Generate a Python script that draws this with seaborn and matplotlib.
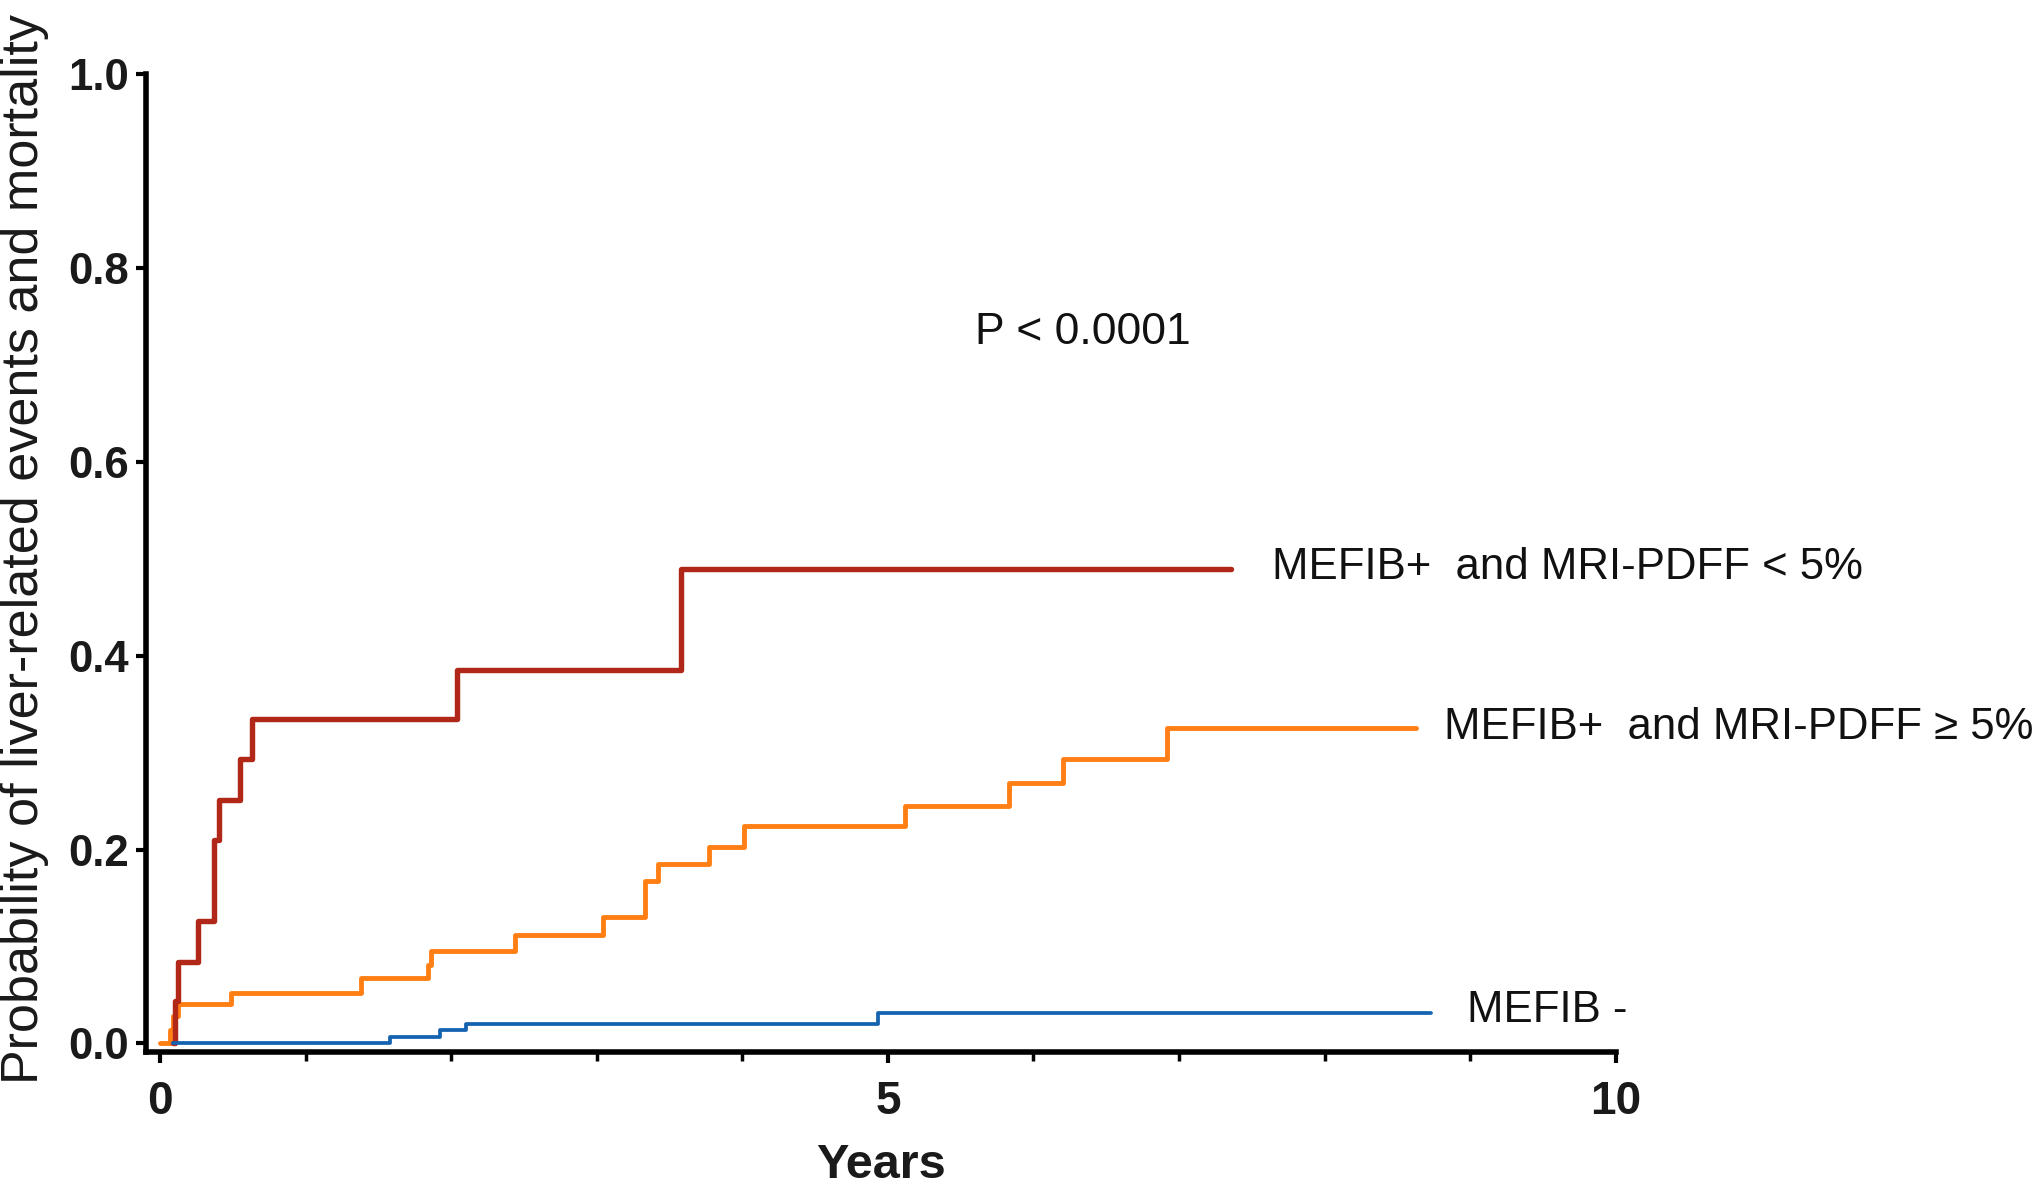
import matplotlib
matplotlib.use("Agg")
import pandas as pd
import matplotlib.pyplot as plt
import seaborn as sns
from matplotlib.ticker import MultipleLocator

# Kaplan-Meier style cumulative incidence (step curves)
years_low = [0.09, 0.10, 0.12, 0.26, 0.37, 0.405, 0.55, 0.63, 2.04, 3.58, 7.36]
prob_low = [0.0, 0.044, 0.084, 0.126, 0.210, 0.251, 0.293, 0.335, 0.385, 0.489, 0.489]

years_high = [0.0, 0.07, 0.09, 0.125, 0.485, 1.38, 1.84, 1.86, 2.44, 3.04, 3.33,
              3.42, 3.77, 4.01, 5.12, 5.83, 6.20, 6.92, 8.63]
prob_high = [0.0, 0.014, 0.028, 0.041, 0.052, 0.067, 0.081, 0.095, 0.112, 0.130, 0.167,
             0.185, 0.203, 0.224, 0.245, 0.269, 0.293, 0.325, 0.325]

years_neg = [0.09, 1.58, 1.92, 2.10, 4.93, 8.73]
prob_neg = [0.0, 0.007, 0.014, 0.020, 0.031, 0.031]

group_names = ["MEFIB+ and MRI-PDFF \u2265 5%", "MEFIB+ and MRI-PDFF < 5%", "MEFIB -"]
label_text = ["MEFIB+  and MRI-PDFF \u2265 5%", "MEFIB+  and MRI-PDFF < 5%", "MEFIB -"]
label_x = [8.82, 7.64, 8.98]
label_y = [0.326, 0.491, 0.034]
y_ticks = [0.0, 0.2, 0.4, 0.6, 0.8, 1.0]
x_ticks = [0, 5, 10]

df = pd.concat([
    pd.DataFrame({"years": years_high, "prob": prob_high, "group": group_names[0]}),
    pd.DataFrame({"years": years_low, "prob": prob_low, "group": group_names[1]}),
    pd.DataFrame({"years": years_neg, "prob": prob_neg, "group": group_names[2]}),
], ignore_index=True)

sns.set_style("ticks")
plt.rcParams["font.family"] = ["Liberation Sans", "DejaVu Sans"]

colors = ["#FF7F14", "#B22818", "#1463B0"]
widths = [3.5, 3.9, 2.7]

fig = plt.figure(figsize=(20.4, 11.87), dpi=100)
ax = fig.add_axes([0.0714, 0.1137, 0.7206, 0.8237])

for name, col, lw in zip(group_names, colors, widths):
    sns.lineplot(data=df[df["group"] == name], x="years", y="prob", color=col,
                 linewidth=lw, drawstyle="steps-post", estimator=None,
                 legend=False, ax=ax)

for txt, lx, ly in zip(label_text, label_x, label_y):
    ax.text(lx, ly, txt, fontsize=31.5, ha="left", va="center", color="#111111")

ax.text(5.60, 0.734, "P < 0.0001", fontsize=32, ha="left", va="center", color="#111111")

ax.set_xlim(-0.1, 10)
ax.set_ylim(-0.009, 1.0)
ax.set_xticks(x_ticks)
ax.set_xticklabels([str(v) for v in x_ticks])
ax.xaxis.set_minor_locator(MultipleLocator(1))
ax.set_yticks(y_ticks)
ax.set_yticklabels([f"{v:.1f}" for v in y_ticks])

for s in ["top", "right"]:
    ax.spines[s].set_visible(False)
for s in ["left", "bottom"]:
    ax.spines[s].set_linewidth(4)
    ax.spines[s].set_color("black")
    ax.spines[s].set_capstyle("projecting")

ax.tick_params(axis="x", which="major", length=8, width=3, pad=12, labelsize=33, colors="black")
ax.tick_params(axis="x", which="minor", length=6.5, width=2.5, colors="black")
ax.tick_params(axis="y", which="major", length=7, width=3, pad=5, labelsize=31.5, colors="black")
for lab in ax.get_xticklabels() + ax.get_yticklabels():
    lab.set_fontweight("bold")
    lab.set_color("#1a1a1a")

ax.set_xlabel("Years", fontsize=35, fontweight="bold", labelpad=14, color="#1a1a1a")
ax.set_ylabel("Probability of liver-related events and mortality", fontsize=37.5, color="#1a1a1a")
ax.yaxis.set_label_coords(-0.066, 0.515)

fig.savefig("out.png", dpi=100, facecolor="white")
